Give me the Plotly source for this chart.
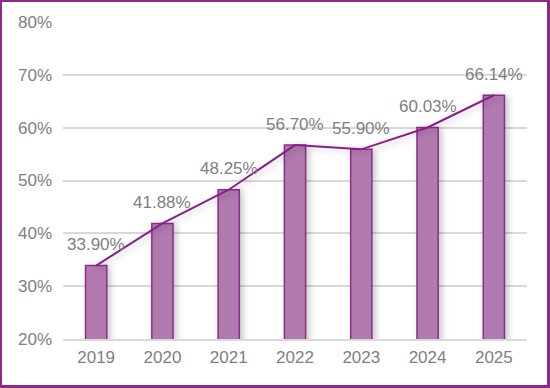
import plotly.graph_objects as go

years = [2019, 2020, 2021, 2022, 2023, 2024, 2025]
values = [0.3390, 0.4188, 0.4825, 0.5670, 0.5590, 0.6003, 0.6614]
labels = ["33.90%", "41.88%", "48.25%", "56.70%", "55.90%", "60.03%", "66.14%"]
ytick_vals = [0.2, 0.3, 0.4, 0.5, 0.6, 0.7, 0.8]
ytick_text = ["20%", "30%", "40%", "50%", "60%", "70%", "80%"]

W, H = 550, 388
ml, mr, mt, mb = 63, 23, 22, 49
FONT = "Liberation Sans"
GREY = "#808080"

fig = go.Figure()
fig.add_trace(go.Bar(
    x=years, y=values, width=0.32,
    marker=dict(color="#B07AAE", line=dict(color="#8E2C8C", width=1.5)),
))
fig.add_trace(go.Scatter(
    x=years, y=values, mode="lines",
    line=dict(color="#8A1E8A", width=2),
))
for x, v, t in zip(years, values, labels):
    fig.add_annotation(x=x, y=v, text=t, showarrow=False, yshift=21,
                       font=dict(size=17, color=GREY, family=FONT))

fig.update_layout(
    width=W, height=H,
    margin=dict(l=ml, r=mr, t=mt, b=mb, pad=0),
    paper_bgcolor="white", plot_bgcolor="white",
    showlegend=False,
    font=dict(family=FONT, size=17, color=GREY),
    xaxis=dict(range=[years[0] - 0.5, years[-1] + 0.5], tickvals=years,
               ticktext=[str(y) for y in years],
               showgrid=False, showline=True, linecolor="#D9D9D9", linewidth=1.5,
               ticks="", ticklabelstandoff=2,
               tickfont=dict(size=17, color=GREY, family=FONT)),
    yaxis=dict(range=[0.2, 0.8], tickvals=ytick_vals, ticktext=ytick_text,
               showgrid=True, gridcolor="#D9D9D9", gridwidth=1.5,
               zeroline=False, showline=False, ticks="", ticklabelstandoff=10,
               tickfont=dict(size=17, color=GREY, family=FONT)),
)

post_js = """
document.body.style.margin='0px';
var d=document.createElement('div');
d.style.cssText='position:absolute;left:0;top:0;width:550px;height:388px;box-sizing:border-box;border-style:solid;border-color:#8B2A8B;border-width:2px 3px 3px 2px;pointer-events:none;z-index:1000;';
document.body.appendChild(d);
document.querySelectorAll('.barlayer, .scatterlayer').forEach(function(g){
  g.style.filter='drop-shadow(3px 2px 3px rgba(0,0,0,0.22))';
});
"""
fig.write_html("out.html", post_script=post_js, config={"displayModeBar": False})
